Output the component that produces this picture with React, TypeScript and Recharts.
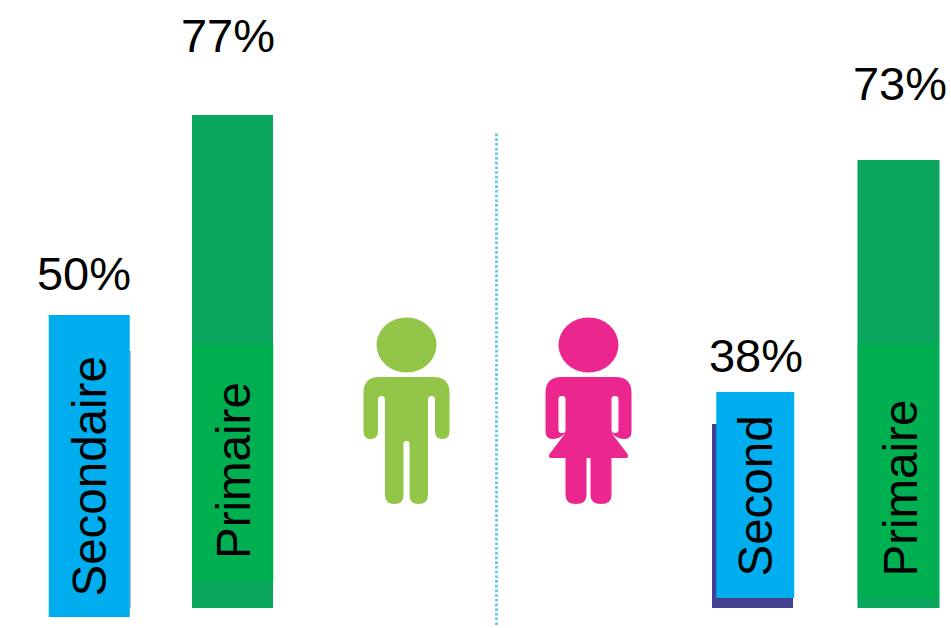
import React from "react";
import { ComposedChart, Bar, Cell, XAxis, YAxis, ReferenceDot, ReferenceLine } from "recharts";

const W = 951;
const H = 628;

const groups = ["Garçons secondaire", "Garçons primaire", "Filles secondaire", "Filles primaire"];
const percentLabels = ["50%", "77%", "38%", "73%"];
const percentX = [84, 228, 756, 900];
const percentY = [338, 576, 256, 528];
const levelLabels = ["Secondaire", "Primaire", "Second", "Primaire"];
const levelX = [106, 250, 772, 917];
const levelY = [31.5, 69, 51.5, 51.5];

const backX = [89.5, 232.5, 752.5, 898];
const backNarrow = [null, [20, 513], [20, 204], null];
const backWide = [[20, 277], null, null, [20, 468]];
const frontX = [89.5, 233, 755, 898.5];
const frontMain = [[11, 313], [46, 284], null, [30, 284]];
const frontShort = [null, null, [30, 236], null];

const backNarrowColors = ["#fff", "#0BA65D", "#44418F", "#fff"];
const backWideColors = ["#B9B5E0", "#fff", "#fff", "#0BA65D"];
const frontMainColors = ["#00AEEF", "#00AF50", "#fff", "#00AF50"];
const frontShortColors = ["#fff", "#fff", "#00AEEF", "#fff"];

const EMPTY = [0, 0];
const rows = groups.map((group, i) => ({
  group,
  backX: backX[i],
  frontX: frontX[i],
  backNarrow: backNarrow[i] ?? EMPTY,
  backWide: backWide[i] ?? EMPTY,
  frontMain: frontMain[i] ?? EMPTY,
  frontShort: frontShort[i] ?? EMPTY,
}));

const FONT = "'Liberation Sans', Arial, sans-serif";

const figureBody =
  "M-27 0H27Q43 0 43 16V54Q43 62 36 62Q28.5 62 28.5 54V23Q28.5 19 25 19Q21.5 19 21.5 23V118Q21.5 127 12 127Q3 127 3 118V67Q3 64 0 64Q-3 64 -3 67V118Q-3 127 -12 127Q-21.5 127 -21.5 118V23Q-21.5 19 -25 19Q-28.5 19 -28.5 23V54Q-28.5 62 -36 62Q-43 62 -43 54V16Q-43 0 -27 0Z";

const girlBody =
  "M-27 0H27Q43 0 43 16V54Q43 62 36 62Q29 62 23 56L39 77Q41 81 37 81H23V118Q23 127 12.5 127Q2 127 2 118V81H-2V118Q-2 127 -12.5 127Q-23 127 -23 118V81H-37Q-41 81 -39 77L-23 56Q-29 62 -36 62Q-43 62 -43 54V16Q-43 0 -27 0Z";

const Figure = ({ cx, cy, color, girl }: any) => (
  <g transform={`translate(${cx} ${cy})`}>
    <ellipse cx={0} cy={-32} rx={30} ry={27.5} fill={color} />
    <path d={girl ? girlBody : figureBody} fill={color} />
    {girl ? (
      <g fill="#fff">
        <rect x={-30} y={19} width={7} height={37} rx={3} />
        <rect x={23} y={19} width={7} height={37} rx={3} />
      </g>
    ) : null}
  </g>
);

const Percent = ({ cx, cy, text }: any) => (
  <text x={cx} y={cy} textAnchor="middle" fontFamily={FONT} fontSize={47} fill="#000">
    {text}
  </text>
);

const Level = ({ cx, cy, text }: any) => (
  <text
    x={cx}
    y={cy}
    transform={`rotate(-90 ${cx} ${cy})`}
    textAnchor="start"
    fontFamily={FONT}
    fontSize={47.5}
    fill="#000"
  >
    {text}
  </text>
);

const hiddenX = (id: string, key: string) => (
  <XAxis key={id} xAxisId={id} dataKey={key} type="number" domain={[0, W]} hide />
);

export default function App() {
  return (
    <div style={{ position: "absolute", left: 0, top: 0, width: W, height: H, background: "#fff" }}>
      <ComposedChart
        width={W}
        height={H}
        data={rows}
        margin={{ top: 0, right: 0, bottom: 0, left: 0 }}
        style={{ overflow: "visible" }}
      >
        {hiddenX("backNarrow", "backX")}
        {hiddenX("backWide", "backX")}
        {hiddenX("frontMain", "frontX")}
        {hiddenX("frontShort", "frontX")}
        <YAxis yAxisId="v" type="number" domain={[0, H]} hide />

        <ReferenceLine
          xAxisId="backNarrow"
          yAxisId="v"
          segment={[{ x: 496.5, y: 3 }, { x: 496.5, y: 495 }]}
          stroke="#6CCBDD"
          strokeWidth={3}
          strokeDasharray="2.6 2.1"
        />

        <Bar xAxisId="backWide" yAxisId="v" dataKey="backWide" barSize={82} isAnimationActive={false}>
          {rows.map((r, i) => <Cell key={r.group} fill={backWideColors[i]} />)}
        </Bar>
        <Bar xAxisId="backNarrow" yAxisId="v" dataKey="backNarrow" barSize={81} isAnimationActive={false}>
          {rows.map((r, i) => <Cell key={r.group} fill={backNarrowColors[i]} />)}
        </Bar>
        <Bar xAxisId="frontMain" yAxisId="v" dataKey="frontMain" barSize={81} isAnimationActive={false}>
          {rows.map((r, i) => <Cell key={r.group} fill={frontMainColors[i]} />)}
        </Bar>
        <Bar xAxisId="frontShort" yAxisId="v" dataKey="frontShort" barSize={78} isAnimationActive={false}>
          {rows.map((r, i) => <Cell key={r.group} fill={frontShortColors[i]} />)}
        </Bar>

        {percentLabels.map((text, i) => (
          <ReferenceDot
            key={`p${i}`}
            xAxisId="backNarrow"
            yAxisId="v"
            x={percentX[i]}
            y={percentY[i]}
            r={0}
            shape={(p: any) => <Percent cx={p.cx} cy={p.cy} text={text} />}
          />
        ))}
        {levelLabels.map((text, i) => (
          <ReferenceDot
            key={`l${i}`}
            xAxisId="backNarrow"
            yAxisId="v"
            x={levelX[i]}
            y={levelY[i]}
            r={0}
            shape={(p: any) => <Level cx={p.cx} cy={p.cy} text={text} />}
          />
        ))}
        <ReferenceDot
          xAxisId="backNarrow"
          yAxisId="v"
          x={406.5}
          y={251}
          r={0}
          shape={(p: any) => <Figure cx={p.cx} cy={p.cy} color="#92C548" />}
        />
        <ReferenceDot
          xAxisId="backNarrow"
          yAxisId="v"
          x={588.5}
          y={251}
          r={0}
          shape={(p: any) => <Figure cx={p.cx} cy={p.cy} color="#EC268F" girl />}
        />
      </ComposedChart>
    </div>
  );
}
